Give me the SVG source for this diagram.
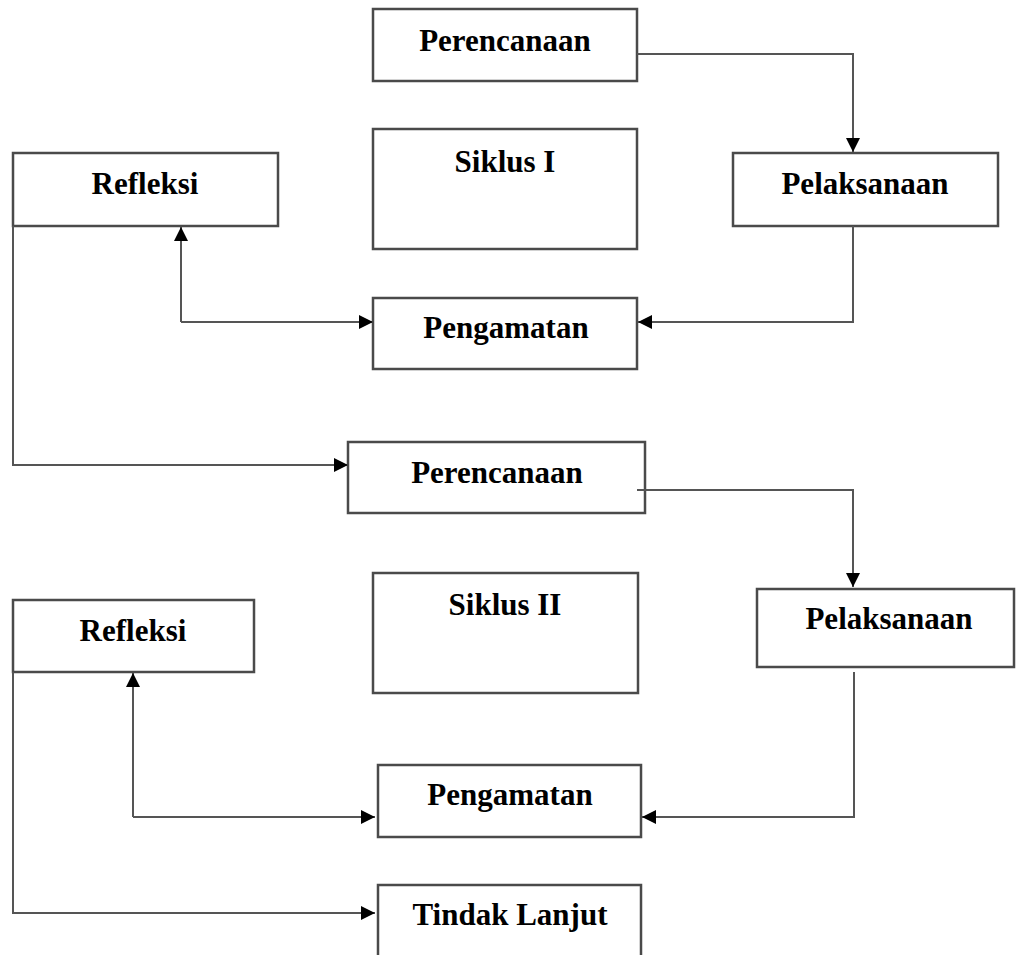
<svg xmlns="http://www.w3.org/2000/svg" width="1016" height="955" viewBox="0 0 1016 955">
<style>
.box{fill:#fff;stroke:#4a4a4a;stroke-width:2.5}
.lbl{font-family:"Liberation Serif","Times New Roman",serif;font-weight:bold;font-size:31px;fill:#000;text-anchor:middle}
.ln{fill:none;stroke:#555;stroke-width:2}
</style>
<defs>
<marker id="ah" markerUnits="userSpaceOnUse" markerWidth="16" markerHeight="14" refX="14" refY="7" orient="auto">
<path d="M0,0 L14,7 L0,14 Z" fill="#000"/>
</marker>
</defs>
<rect width="1016" height="955" fill="#fff"/>
<g id="perencanaan1"><rect class="box" x="373" y="9" width="264" height="72"/><text class="lbl" x="505" y="51">Perencanaan</text></g>
<g id="siklus1"><rect class="box" x="373" y="129" width="264" height="120"/><text class="lbl" x="505" y="172">Siklus I</text></g>
<g id="pelaksanaan1"><rect class="box" x="733" y="153" width="265" height="73"/><text class="lbl" x="865" y="194">Pelaksanaan</text></g>
<g id="refleksi1"><rect class="box" x="13" y="153" width="265" height="73"/><text class="lbl" x="145" y="194">Refleksi</text></g>
<g id="pengamatan1"><rect class="box" x="373" y="298" width="264" height="71"/><text class="lbl" x="506" y="338">Pengamatan</text></g>
<g id="perencanaan2"><rect class="box" x="348" y="442" width="297" height="71"/><text class="lbl" x="497" y="483">Perencanaan</text></g>
<g id="siklus2"><rect class="box" x="373" y="573" width="265" height="120"/><text class="lbl" x="505" y="615">Siklus II</text></g>
<g id="pelaksanaan2"><rect class="box" x="757" y="589" width="257" height="78"/><text class="lbl" x="889" y="629">Pelaksanaan</text></g>
<g id="refleksi2"><rect class="box" x="13" y="600" width="241" height="72"/><text class="lbl" x="133" y="641">Refleksi</text></g>
<g id="pengamatan2"><rect class="box" x="378" y="765" width="263" height="72"/><text class="lbl" x="510" y="805">Pengamatan</text></g>
<g id="tindaklanjut"><rect class="box" x="378" y="885" width="263" height="90"/><text class="lbl" x="510" y="925">Tindak Lanjut</text></g>
<g id="connectors">
<path class="ln" d="M637,54 H853 V152" marker-end="url(#ah)"/>
<path class="ln" d="M853,226 V322 H638" marker-end="url(#ah)"/>
<path class="ln" d="M181,322 V227" marker-end="url(#ah)"/>
<path class="ln" d="M181,322 H373" marker-end="url(#ah)"/>
<path class="ln" d="M13,226 V465 H348" marker-end="url(#ah)"/>
<path class="ln" d="M637,490 H853 V587" marker-end="url(#ah)"/>
<path class="ln" d="M854,672 V817 H642" marker-end="url(#ah)"/>
<path class="ln" d="M133,817 V673" marker-end="url(#ah)"/>
<path class="ln" d="M133,817 H375" marker-end="url(#ah)"/>
<path class="ln" d="M13,672 V913 H375" marker-end="url(#ah)"/>
</g>
</svg>
